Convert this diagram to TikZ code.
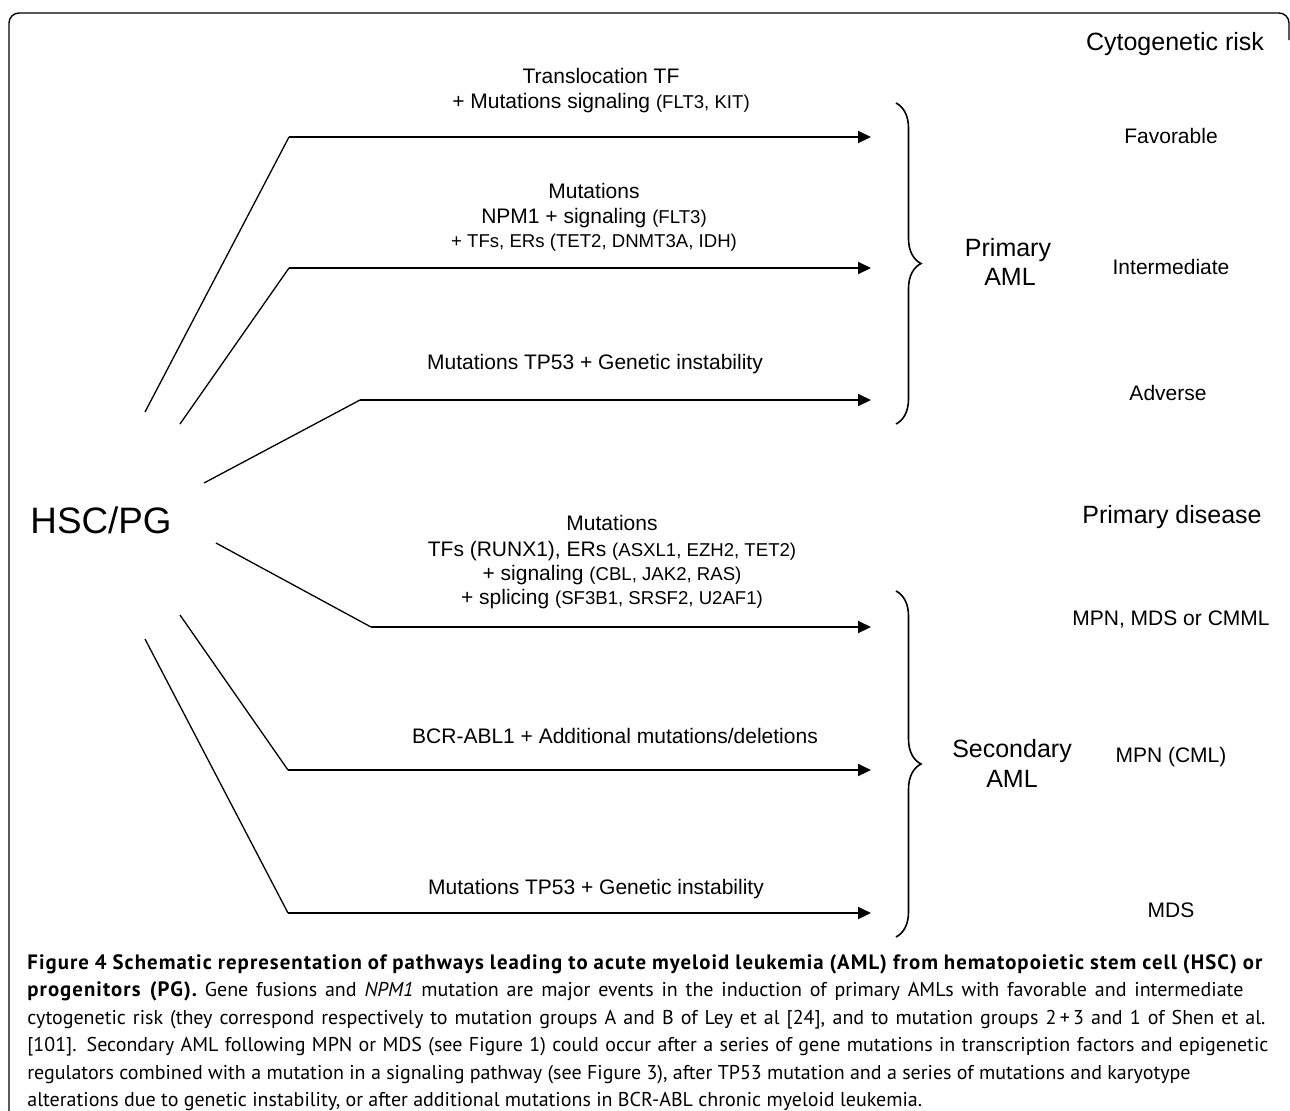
\documentclass[tikz,border=0pt]{standalone}
\usepackage{fontspec}
\setmainfont{Liberation Sans}
\newfontfamily\capfont{PT Sans}
\usetikzlibrary{arrows.meta,decorations.pathreplacing}
\newcommand{\gn}[1]{{\fontsize{9.3}{11}\selectfont #1}}
\newcommand{\capbf}[1]{{\fontsize{10.4}{13.75}\selectfont\bfseries\addfontfeatures{LetterSpace=5}#1}}

\begin{document}
\begin{tikzpicture}[x=0.5pt,y=-0.5pt,
  arr/.style={line width=1pt,-{Triangle[length=6.5pt,width=6pt]}},
  leg/.style={line width=0.65pt},
  brc/.style={line width=0.8pt,decorate,decoration={brace,amplitude=12.5pt}},
  lbl/.style={anchor=base,inner sep=0pt,font=\fontsize{10.5}{12.5}\selectfont},
  big/.style={anchor=base,inner sep=0pt,font=\fontsize{12.5}{15}\selectfont},
  captxt/.style={anchor=base west,inner sep=0pt,font=\capfont\fontsize{10}{13.75}\selectfont}]
\useasboundingbox (0,0) rectangle (1290,1110);

% frame:
\draw[line width=0.7pt,rounded corners=5pt] (9,1112) -- (9,13) -- (1289,13) -- (1289,40);

% start, bend and end of each path:
\coordinate (s1) at (145,412); \coordinate (b1) at (289,137); \coordinate (e1) at (871,137);
\coordinate (s2) at (180,424); \coordinate (b2) at (289,268); \coordinate (e2) at (871,268);
\coordinate (s3) at (204,483); \coordinate (b3) at (360,400); \coordinate (e3) at (871,400);
\coordinate (s4) at (216,543); \coordinate (b4) at (371,627); \coordinate (e4) at (871,627);
\coordinate (s5) at (180,615); \coordinate (b5) at (288,770); \coordinate (e5) at (871,770);
\coordinate (s6) at (145,639); \coordinate (b6) at (288,913); \coordinate (e6) at (871,913);
\coordinate (u1) at (896,103); \coordinate (l1) at (896,424);
\coordinate (u2) at (896,591); \coordinate (l2) at (896,937);

\draw[leg] (s1) -- (b1); \draw[arr] (b1) -- (e1);
\draw[leg] (s2) -- (b2); \draw[arr] (b2) -- (e2);
\draw[leg] (s3) -- (b3); \draw[arr] (b3) -- (e3);
\draw[leg] (s4) -- (b4); \draw[arr] (b4) -- (e4);
\draw[leg] (s5) -- (b5); \draw[arr] (b5) -- (e5);
\draw[leg] (s6) -- (b6); \draw[arr] (b6) -- (e6);
\draw[brc] (u1) -- (l1);
\draw[brc] (u2) -- (l2);

\path (101,533) node[anchor=base,inner sep=0pt,font=\fontsize{18.4}{22}\selectfont] (hsc) {HSC/PG};

% texts over the arrows:
\path (601,83) node[lbl] (tl1) {Translocation TF};
\path (601,108) node[lbl] (tl2) {+ Mutations signaling \gn{(FLT3, KIT)}};
\path (594,198) node[lbl] (np1) {Mutations};
\path (594,223) node[lbl] (np2) {NPM1 + signaling \gn{(FLT3)}};
\path (594,247) node[lbl] (np3) {\gn{+ TFs, ERs (TET2, DNMT3A, IDH)}};
\path (595,369) node[lbl] (tp1) {Mutations TP53 + Genetic instability};
\path (612,530) node[lbl] (sm1) {Mutations};
\path (612,556) node[lbl] (sm2) {TFs (RUNX1), ERs \gn{(ASXL1, EZH2, TET2)}};
\path (612,580) node[lbl] (sm3) {+ signaling \gn{(CBL, JAK2, RAS)}};
\path (612,604) node[lbl] (sm4) {+ splicing \gn{(SF3B1, SRSF2, U2AF1)}};
\path (615,743) node[lbl] (bcr) {BCR-ABL1 + Additional mutations/deletions};
\path (596,894) node[lbl] (tp2) {Mutations TP53 + Genetic instability};

% outcomes:
\path (1008,256) node[big] (pa1) {Primary};
\path (1010,285) node[big] (pa2) {AML};
\path (1012,757) node[big] (sa1) {Secondary};
\path (1012,787) node[big] (sa2) {AML};
\path (1175,50) node[big] (risk) {Cytogenetic risk};
\path (1171,143) node[lbl] (fav) {Favorable};
\path (1171,274) node[lbl] (inter) {Intermediate};
\path (1168,400) node[lbl] (adv) {Adverse};
\path (1172,523) node[big] (pdis) {Primary disease};
\path (1171,625) node[lbl] (mmc) {MPN, MDS or CMML};
\path (1171,762) node[lbl] (cml) {MPN (CML)};
\path (1171,917) node[lbl] (mds) {MDS};

% caption:
\path (27,969) node[captxt] (c1) {\makebox[617.5pt][s]{\capbf{Figure 4 Schematic representation of pathways leading to acute myeloid leukemia (AML) from hematopoietic stem cell (HSC) or}}};
\path (27,996.5) node[captxt] (c2) {\makebox[608pt][s]{\capbf{progenitors (PG).} Gene fusions and \textit{NPM1} mutation are major events in the induction of primary AMLs with favorable and intermediate}};
\path (27,1024) node[captxt] (c3) {\makebox[619pt][s]{cytogenetic risk (they correspond respectively to mutation groups A and B of Ley et al [24], and to mutation groups 2\,+\,3 and 1 of Shen et al.}};
\path (27,1051.5) node[captxt] (c4) {\makebox[620.5pt][s]{[101]. Secondary AML following MPN or MDS (see Figure 1) could occur after a series of gene mutations in transcription factors and epigenetic}};
\path (27,1079) node[captxt] (c5) {regulators combined with a mutation in a signaling pathway (see Figure 3), after TP53 mutation and a series of mutations and karyotype};
\path (27,1106.5) node[captxt] (c6) {alterations due to genetic instability, or after additional mutations in BCR-ABL chronic myeloid leukemia.};

\end{tikzpicture}
\end{document}
